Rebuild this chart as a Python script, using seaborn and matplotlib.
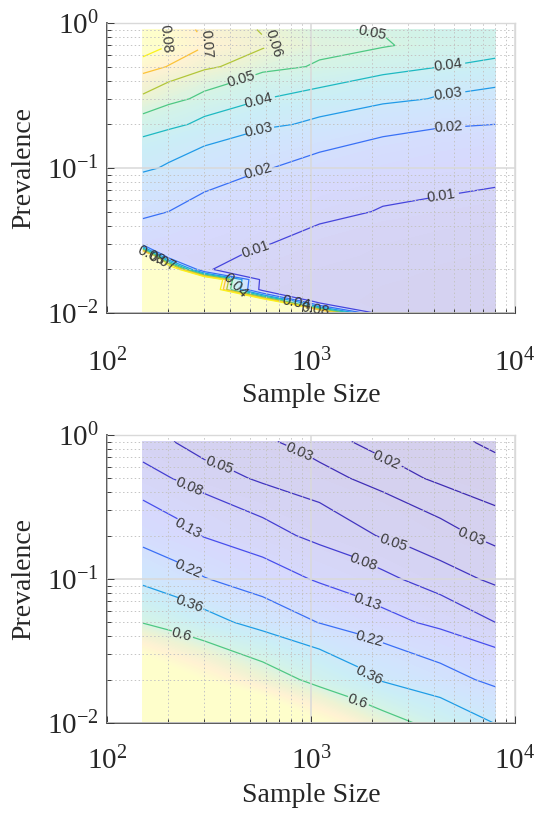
import numpy as np
import matplotlib
matplotlib.use("Agg")
import matplotlib.pyplot as plt
from matplotlib.colors import Normalize
import seaborn as sns

# grid of sample sizes (columns) for the top panel
sample_size = [150, 200, 300, 580, 1100, 2250, 4300, 8000]

# top panel: prevalence rows (bottom -> top), value per sample size
prev_top = [0.01, 0.012, 0.0145, 0.017, 0.02, 0.025, 0.03, 0.05, 0.1, 0.2, 0.3, 0.5, 0.7, 0.9]
err_top = [
    [0.15, 0.18, 0.14, 0.17, 0.15, 0.0055, 0.0050, 0.0046],
    [0.17, 0.14, 0.16, 0.15, 0.0065, 0.0058, 0.0052, 0.0048],
    [0.14, 0.17, 0.15, 0.0076, 0.0068, 0.0060, 0.0055, 0.0050],
    [0.16, 0.15, 0.17, 0.0080, 0.0071, 0.0063, 0.0057, 0.0052],
    [0.15, 0.16, 0.0102, 0.0085, 0.0074, 0.0066, 0.0060, 0.0055],
    [0.17, 0.0120, 0.0109, 0.0093, 0.0080, 0.0071, 0.0064, 0.0059],
    [0.0153, 0.0145, 0.0126, 0.0102, 0.0085, 0.0075, 0.0068, 0.0063],
    [0.0220, 0.0200, 0.0174, 0.0144, 0.0114, 0.0096, 0.0088, 0.0082],
    [0.0314, 0.0290, 0.0255, 0.0204, 0.0175, 0.0152, 0.0137, 0.0125],
    [0.0458, 0.0425, 0.0376, 0.0318, 0.0280, 0.0233, 0.0209, 0.0200],
    [0.0583, 0.0530, 0.0475, 0.0400, 0.0369, 0.0324, 0.0291, 0.0272],
    [0.0746, 0.0695, 0.0620, 0.0531, 0.0487, 0.0438, 0.0400, 0.0377],
    [0.0880, 0.0800, 0.0705, 0.0615, 0.0535, 0.0508, 0.0460, 0.0445],
    [0.0860, 0.0780, 0.0670, 0.0590, 0.0505, 0.0495, 0.0450, 0.0440],
]
levels_top = [0.01, 0.02, 0.03, 0.04, 0.05, 0.06, 0.07, 0.08]
labels_top = ["0.01", "0.02", "0.03", "0.04", "0.05", "0.06", "0.07", "0.08"]

# bottom panel
sample_size_bot = [150, 300, 580, 1100, 2250, 4300, 8000]
prev_bot = [0.01, 0.02, 0.05, 0.1, 0.2, 0.5, 0.9]
err_bot = [
    [2.30, 1.84, 1.41, 1.01, 0.700, 0.500, 0.355],
    [1.28, 0.98, 0.73, 0.52, 0.344, 0.260, 0.193],
    [0.59, 0.415, 0.297, 0.216, 0.149, 0.113, 0.080],
    [0.32, 0.224, 0.164, 0.121, 0.088, 0.0608, 0.0448],
    [0.182, 0.126, 0.094, 0.0687, 0.0473, 0.0344, 0.0251],
    [0.094, 0.062, 0.0455, 0.0347, 0.0241, 0.0181, 0.0144],
    [0.061, 0.038, 0.032, 0.0234, 0.0161, 0.0135, 0.0108],
]
levels_bot = [0.012, 0.02, 0.03, 0.05, 0.08, 0.13, 0.22, 0.36, 0.6]
labels_bot = ["0.01", "0.02", "0.03", "0.05", "0.08", "0.13", "0.22", "0.36", "0.6"]

# label spots (data coords) for clabel
lab_pos_top = [(188, 0.76), (320, 0.80), (665, 0.74), (1990, 0.83), (455, 0.40),
               (550, 0.29), (4700, 0.50), (550, 0.19), (4700, 0.32), (550, 0.094),
               (4700, 0.18), (530, 0.0285), (4300, 0.071),
               (165, 0.025), (185, 0.022), (420, 0.0155), (850, 0.0118), (1050, 0.0104)]
lab_pos_bot = [(358, 0.64), (2500, 0.172), (850, 0.69), (6000, 0.178), (2300, 0.62),
               (247, 0.40), (1780, 0.121), (247, 0.219), (1840, 0.064),
               (247, 0.110), (1900, 0.036), (250, 0.063), (1900, 0.021),
               (228, 0.038), (1660, 0.0133)]

sns.set_theme(style="ticks")
plt.rcParams["font.family"] = ["Liberation Serif", "DejaVu Serif"]
plt.rcParams["mathtext.fontset"] = "custom"
plt.rcParams["mathtext.rm"] = "Liberation Serif"
plt.rcParams["mathtext.it"] = "Liberation Serif:italic"
plt.rcParams["axes.unicode_minus"] = False

parula = sns.blend_palette([
    (0.2422, 0.1504, 0.6603), (0.2810, 0.3228, 0.9579), (0.1786, 0.5289, 0.9682),
    (0.0689, 0.6948, 0.8394), (0.2161, 0.7843, 0.5923), (0.6720, 0.7793, 0.2227),
    (0.9970, 0.7659, 0.2199), (0.9769, 0.9839, 0.0805)], n_colors=256, as_cmap=True)

ALPHA = 0.22


def panel(ax, xs, prev, err, levels, labels, vmin, vmax, lab_pos, xpad, xlabpad):
    ax.set_xscale("log")
    ax.set_yscale("log")
    X, Y = np.meshgrid(xs, prev)
    logv = np.log10(np.array(err))
    norm = Normalize(vmin, vmax)

    # soft filled background (colours pre-blended with white, so no seams)
    edges = np.concatenate([[0.0005], np.linspace(vmin + 0.001 * vmax, vmax, 60), [100]])
    mids = (edges[:-1] + edges[1:]) / 2
    fill_cols = [tuple(ALPHA * np.array(parula(norm(m))[:3]) + (1 - ALPHA)) for m in mids]
    ax.contourf(X, Y, logv, levels=np.log10(edges), colors=fill_cols, antialiased=False)

    line_cols = [parula(norm(l)) for l in levels]
    cs = ax.contour(X, Y, logv, levels=np.log10(levels), colors=line_cols, linewidths=0.9)
    fmt = {lv: s for lv, s in zip(cs.levels, labels)}
    ax.clabel(cs, manual=lab_pos, inline=True, inline_spacing=4, fmt=fmt,
              fontsize=10.5, colors="#3a3a3a")
    for t in cs.labelTexts:
        t.set_family(["Liberation Sans", "DejaVu Sans"])

    ax.set_xlim(100, 10000)
    ax.set_ylim(0.01, 1)
    ax.grid(True, which="major", color="#d9d9d9", lw=1.1, ls="-")
    ax.grid(True, which="minor", color="#c4c4c4", lw=0.7, ls=(0, (1.5, 2.5)))
    ax.set_axisbelow(False)
    for s in ["left", "bottom"]:
        ax.spines[s].set_color("#5a5a5a")
        ax.spines[s].set_linewidth(1.4)
    for s in ["top", "right"]:
        ax.spines[s].set_color("#d9d9d9")
        ax.spines[s].set_linewidth(1.0)
    ax.tick_params(which="both", direction="in", color="#3a3a3a", width=0.7,
                   top=False, right=False)
    ax.tick_params(which="major", length=5, labelsize=21)
    ax.tick_params(which="minor", length=3)
    ax.tick_params(axis="x", pad=xpad)
    ax.tick_params(axis="y", pad=6)
    ax.set_xlabel("Sample Size", fontsize=20, labelpad=xlabpad)
    ax.set_ylabel("Prevalence", fontsize=20, labelpad=8)


fig = plt.figure(figsize=(5.37, 8.21), dpi=100)
ax1 = fig.add_axes([0.1993, 0.6188, 0.7598, 0.3532])
ax2 = fig.add_axes([0.1993, 0.1194, 0.7598, 0.3508])

panel(ax1, sample_size, prev_top, err_top, levels_top, labels_top, 0.002, 0.082,
      lab_pos_top, 26, 4)
panel(ax2, sample_size_bot, prev_bot, err_bot, levels_bot, labels_bot, 0.0, 1.0,
      lab_pos_bot, 17, 6)

fig.savefig("out.png", dpi=100)
